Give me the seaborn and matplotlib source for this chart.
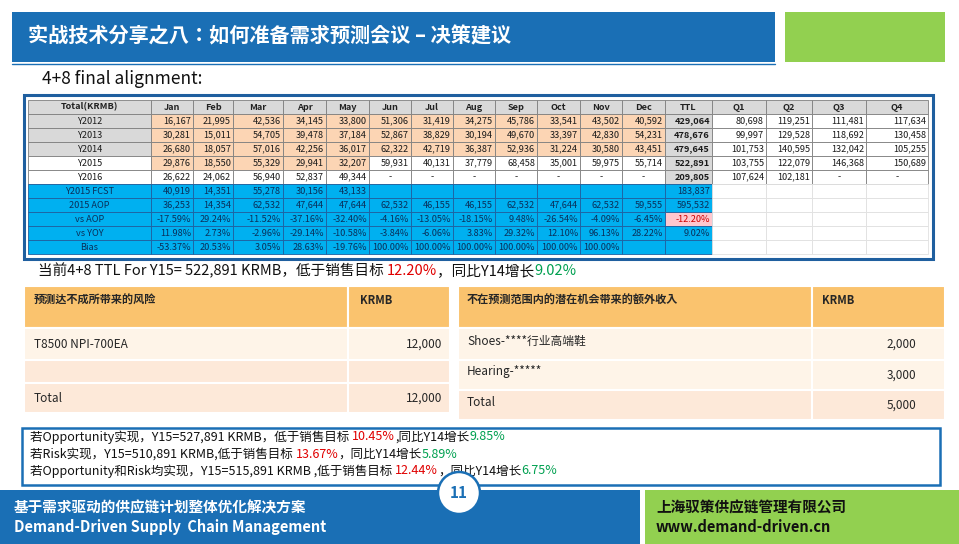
import matplotlib
matplotlib.use("Agg")
import matplotlib.pyplot as plt
import seaborn as sns
from matplotlib.patches import Rectangle, Circle

sns.set_theme(style="white")
plt.rcParams["font.family"] = "sans-serif"
plt.rcParams["font.sans-serif"] = ["Noto Sans CJK JP", "DejaVu Sans"]

# ---------------- data ----------------
months = ["Jan", "Feb", "Mar", "Apr", "May", "Jun", "Jul", "Aug", "Sep", "Oct", "Nov", "Dec"]
header = ["Total(KRMB)"] + months + ["TTL", "Q1", "Q2", "Q3", "Q4"]
row_labels = ["Y2012", "Y2013", "Y2014", "Y2015", "Y2016", "Y2015 FCST", "2015 AOP", "vs AOP", "vs YOY", "Bias"]
y2012 = ["16,167", "21,995", "42,536", "34,145", "33,800", "51,306", "31,419", "34,275", "45,786", "33,541", "43,502", "40,592", "429,064", "80,698", "119,251", "111,481", "117,634"]
y2013 = ["30,281", "15,011", "54,705", "39,478", "37,184", "52,867", "38,829", "30,194", "49,670", "33,397", "42,830", "54,231", "478,676", "99,997", "129,528", "118,692", "130,458"]
y2014 = ["26,680", "18,057", "57,016", "42,256", "36,017", "62,322", "42,719", "36,387", "52,936", "31,224", "30,580", "43,451", "479,645", "101,753", "140,595", "132,042", "105,255"]
y2015 = ["29,876", "18,550", "55,329", "29,941", "32,207", "59,931", "40,131", "37,779", "68,458", "35,001", "59,975", "55,714", "522,891", "103,755", "122,079", "146,368", "150,689"]
y2016 = ["26,622", "24,062", "56,940", "52,837", "49,344", "-", "-", "-", "-", "-", "-", "-", "209,805", "107,624", "102,181", "-", "-"]
fcst = ["40,919", "14,351", "55,278", "30,156", "43,133", "", "", "", "", "", "", "", "183,837", "", "", "", ""]
aop = ["36,253", "14,354", "62,532", "47,644", "47,644", "62,532", "46,155", "46,155", "62,532", "47,644", "62,532", "59,555", "595,532", "", "", "", ""]
vs_aop = ["-17.59%", "29.24%", "-11.52%", "-37.16%", "-32.40%", "-4.16%", "-13.05%", "-18.15%", "9.48%", "-26.54%", "-4.09%", "-6.45%", "-12.20%", "", "", "", ""]
vs_yoy = ["11.98%", "2.73%", "-2.96%", "-29.14%", "-10.58%", "-3.84%", "-6.06%", "3.83%", "29.32%", "12.10%", "96.13%", "28.22%", "9.02%", "", "", "", ""]
bias = ["-53.37%", "20.53%", "3.05%", "28.63%", "-19.76%", "100.00%", "100.00%", "100.00%", "100.00%", "100.00%", "100.00%", "", "", "", "", "", ""]
table_rows = [y2012, y2013, y2014, y2015, y2016, fcst, aop, vs_aop, vs_yoy, bias]

risk_items = ["T8500 NPI-700EA", "", "Total"]
risk_values = ["12,000", "", "12,000"]
opp_items = ["Shoes-****行业高端鞋", "Hearing-*****", "Total"]
opp_values = ["2,000", "3,000", "5,000"]

# ---------------- layout ----------------
fig = plt.figure(figsize=(9.59, 5.44), dpi=100)
ax = fig.add_axes([0, 0, 1, 1])
ax.set_xlim(0, 959)
ax.set_ylim(544, 0)
ax.axis("off")

BLUE = "#00b0f0"
PEACH = "#fcd5b4"
GRAY = "#d9d9d9"
TF = 6.6

def rect(x0, y0, x1, y1, fc, ec="none", lw=0.6, z=1):
    ax.add_patch(Rectangle((x0, y0), x1 - x0, y1 - y0, facecolor=fc, edgecolor=ec, linewidth=lw, zorder=z))

# title bar
rect(12, 12, 775, 62, "#1a6fb5")
ax.plot([12, 775], [64, 64], color="#1a6fb5", lw=1)
rect(785, 12, 945, 62, "#92d050")
ax.text(28, 36, "实战技术分享之八：如何准备需求预测会议 – 决策建议", color="white", fontsize=14.5, va="center", weight="bold")
ax.text(42, 79, "4+8 final alignment:", fontsize=12.5, va="center", color="#111111")

# main table
xb = [28, 151, 193, 233, 283, 326, 369, 411, 453, 495, 537, 580, 622, 665, 712, 766, 812, 866, 928]
yb = [100, 114] + [114 + 14 * i for i in range(1, 11)]
rect(24, 95, 933, 259, "white", ec="#1f5f9f", lw=2.2, z=0)
for c in range(len(header)):
    rect(xb[c], yb[0], xb[c + 1], yb[1], GRAY, ec="#7f7f7f")
    ax.text((xb[c] + xb[c + 1]) / 2, (yb[0] + yb[1]) / 2, header[c], fontsize=TF, ha="center", va="center",
            weight="bold", style="italic" if c == 0 else "normal", color="#222222")
for r, lab in enumerate(row_labels):
    y0, y1 = yb[r + 1], yb[r + 2]
    blue_row = r >= 5
    for c in range(len(header)):
        if blue_row:
            fc = BLUE if c <= 13 else "white"
            if r == 7 and c == 13:
                fc = "#ffc7ce"
            ec = "#1f5f9f" if c <= 13 else "#e0e0e0"
        else:
            if c == 0:
                fc = GRAY if r < 3 else "white"
            elif c <= 12:
                fc = PEACH if (r < 3 or (r == 3 and c <= 5)) else "white"
            elif c == 13:
                fc = GRAY
            else:
                fc = "white"
            ec = "#7f7f7f"
        rect(xb[c], y0, xb[c + 1], y1, fc, ec=ec)
        txt = lab if c == 0 else table_rows[r][c - 1]
        if not txt:
            continue
        color = "#1a1a1a"
        if blue_row and c <= 13:
            color = "#0a2f5a"
        if r == 7 and c == 13:
            color = "#d00000"
        if c == 0:
            ax.text((xb[0] + xb[1]) / 2, (y0 + y1) / 2, txt, fontsize=TF, ha="center", va="center", color=color)
        elif txt == "-":
            ax.text((xb[c] + xb[c + 1]) / 2, (y0 + y1) / 2, txt, fontsize=TF, ha="center", va="center", color=color)
        else:
            ax.text(xb[c + 1] - 2, (y0 + y1) / 2, txt, fontsize=TF, ha="right", va="center", color=color,
                    weight="bold" if c == 13 and not blue_row else "normal")

renderer = fig.canvas.get_renderer()

def rich(x, y, parts, fs):
    for s, col in parts:
        t = ax.text(x, y, s, fontsize=fs, color=col, va="center", ha="left")
        bb = t.get_window_extent(renderer=renderer)
        x += bb.width * 959 / fig.bbox.width

rich(38, 271, [("当前4+8 TTL For Y15= 522,891 KRMB，低于销售目标 ", "#111111"), ("12.20%", "#e00000"),
               ("，同比Y14增长", "#111111"), ("9.02%", "#00a050")], 10.5)

# risk table
ORANGE = "#fac36e"
rect(24, 286, 348, 328, ORANGE, ec="white", lw=1.5)
rect(348, 286, 450, 328, ORANGE, ec="white", lw=1.5)
ax.text(34, 300, "预测达不成所带来的风险", fontsize=8, weight="bold", va="center")
ax.text(360, 300, "KRMB", fontsize=8, weight="bold", va="center")
rys = [328, 360, 383, 413]
rfc = ["#fef4e8", "#fde9d9", "#fde9d9"]
for i in range(3):
    rect(24, rys[i], 348, rys[i + 1], rfc[i], ec="white", lw=1.5)
    rect(348, rys[i], 450, rys[i + 1], rfc[i], ec="white", lw=1.5)
    yc = (rys[i] + rys[i + 1]) / 2
    ax.text(34, yc, risk_items[i], fontsize=8.5, va="center")
    ax.text(442, yc, risk_values[i], fontsize=8.5, va="center", ha="right")

# opportunity table
rect(458, 286, 812, 328, ORANGE, ec="white", lw=1.5)
rect(812, 286, 945, 328, ORANGE, ec="white", lw=1.5)
ax.text(467, 300, "不在预测范围内的潜在机会带来的额外收入", fontsize=8, weight="bold", va="center")
ax.text(822, 300, "KRMB", fontsize=8, weight="bold", va="center")
oys = [328, 360, 390, 420]
ofc = ["#fef4e8", "#fef4e8", "#fde9d9"]
for i in range(3):
    rect(458, oys[i], 812, oys[i + 1], ofc[i], ec="white", lw=1.5)
    rect(812, oys[i], 945, oys[i + 1], ofc[i], ec="white", lw=1.5)
    yc = (oys[i] + oys[i + 1]) / 2 - 3
    ax.text(467, yc, opp_items[i], fontsize=8.5, va="center")
    ax.text(916, yc + 3, opp_values[i], fontsize=8.5, va="center", ha="right")

# scenario box
rect(22, 428, 940, 485, "white", ec="#1a6fb5", lw=1.8)
fs = 9
rich(30, 437, [("若Opportunity实现，Y15=527,891 KRMB，低于销售目标 ", "#111111"), ("10.45%", "#e00000"),
               (",同比Y14增长", "#111111"), ("9.85%", "#00a050")], fs)
rich(30, 454, [("若Risk实现，Y15=510,891 KRMB,低于销售目标 ", "#111111"), ("13.67%", "#e00000"),
               ("，同比Y14增长", "#111111"), ("5.89%", "#00a050")], fs)
rich(30, 471, [("若Opportunity和Risk均实现，Y15=515,891 KRMB ,低于销售目标 ", "#111111"), ("12.44%", "#e00000"),
               ("，同比Y14增长", "#111111"), ("6.75%", "#00a050")], fs)

# footer
rect(0, 490, 640, 544, "#1a6fb5", z=2)
rect(645, 490, 959, 544, "#92d050", z=2)
ax.text(14, 507, "基于需求驱动的供应链计划整体优化解决方案", color="white", fontsize=10.5, weight="bold", va="center", zorder=3)
ax.text(14, 527, "Demand-Driven Supply  Chain Management", color="white", fontsize=10.5, weight="bold", va="center", zorder=3)
ax.text(656, 507, "上海驭策供应链管理有限公司", color="#111111", fontsize=10.5, weight="bold", va="center", zorder=3)
ax.text(656, 527, "www.demand-driven.cn", color="#111111", fontsize=10.5, weight="bold", va="center", zorder=3)
ax.add_patch(Circle((459, 493), 21, facecolor="white", edgecolor="#1a6fb5", lw=1.8, zorder=4))
ax.text(459, 493, "11", color="#1a6fb5", fontsize=11, weight="bold", ha="center", va="center", zorder=5)

fig.savefig("out.png", dpi=100)
